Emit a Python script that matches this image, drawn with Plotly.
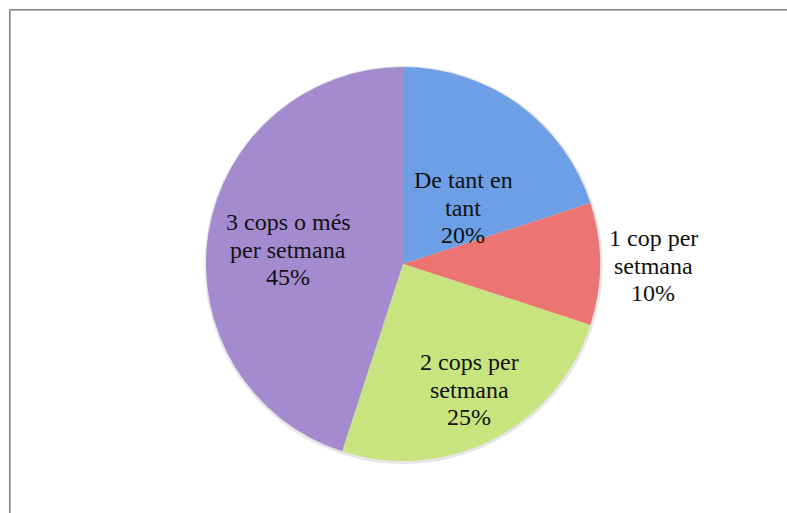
import plotly.graph_objects as go

# Freqüència de pràctica
categories = ["De tant en tant", "1 cop per setmana", "2 cops per setmana", "3 cops o més per setmana"]
values = [20, 10, 25, 45]
label_lines = [["De tant en", "tant"], ["1 cop per", "setmana"], ["2 cops per", "setmana"], ["3 cops o més", "per setmana"]]

colors = ["#6C9FE6", "#EC7573", "#C7E47F", "#A48BD0"]

W, H = 787, 513
cx, cy, r = 403, 264, 197
FONT_SIZE = 24
LINE_STEP = 27.8

fig = go.Figure()

# soft shadow ring under the pie
fig.add_trace(go.Pie(
    values=[1], sort=False, textinfo="none", hoverinfo="skip", showlegend=False,
    marker=dict(colors=["#e6e6e6"], line=dict(width=0)),
    domain=dict(x=[(cx - r - 2) / W, (cx + r + 3) / W], y=[1 - (cy + r + 3) / H, 1 - (cy - r - 1) / H]),
))

fig.add_trace(go.Pie(
    labels=categories,
    values=values,
    sort=False,
    direction="clockwise",
    rotation=0,
    marker=dict(colors=colors, line=dict(width=0)),
    textinfo="none",
    hoverinfo="label+percent",
    showlegend=False,
    domain=dict(x=[(cx - r) / W, (cx + r) / W], y=[1 - (cy + r) / H, 1 - (cy - r) / H]),
))

# label anchor: horizontal centre and first baseline, in pixels
label_pos = [(463, 187), (653, 245), (469, 369), (288, 229)]
total = sum(values)
for lines, v, (px, py) in zip(label_lines, values, label_pos):
    pct = round(100 * v / total)
    for i, line in enumerate(lines + [f"{pct}%"]):
        base = py + i * LINE_STEP
        fig.add_annotation(
            x=px / W, y=1 - (base - 0.3 * FONT_SIZE) / H, xref="paper", yref="paper",
            text=line, showarrow=False, xanchor="center", yanchor="middle",
            font=dict(family="Liberation Serif", size=FONT_SIZE, color="#111111"),
        )

# chart area frame
fig.add_shape(type="rect", xref="paper", yref="paper",
              x0=9.5 / W, x1=1.05, y0=-0.05, y1=1 - 9.5 / H,
              line=dict(color="#858585", width=1), layer="above")
fig.add_shape(type="rect", xref="paper", yref="paper",
              x0=10.5 / W, x1=1.05, y0=-0.05, y1=1 - 10.5 / H,
              line=dict(color="#b5b5b5", width=1), layer="above")

fig.update_layout(
    width=W, height=H,
    margin=dict(l=0, r=0, t=0, b=0),
    paper_bgcolor="white", plot_bgcolor="white",
)
fig.write_html("out.html")
